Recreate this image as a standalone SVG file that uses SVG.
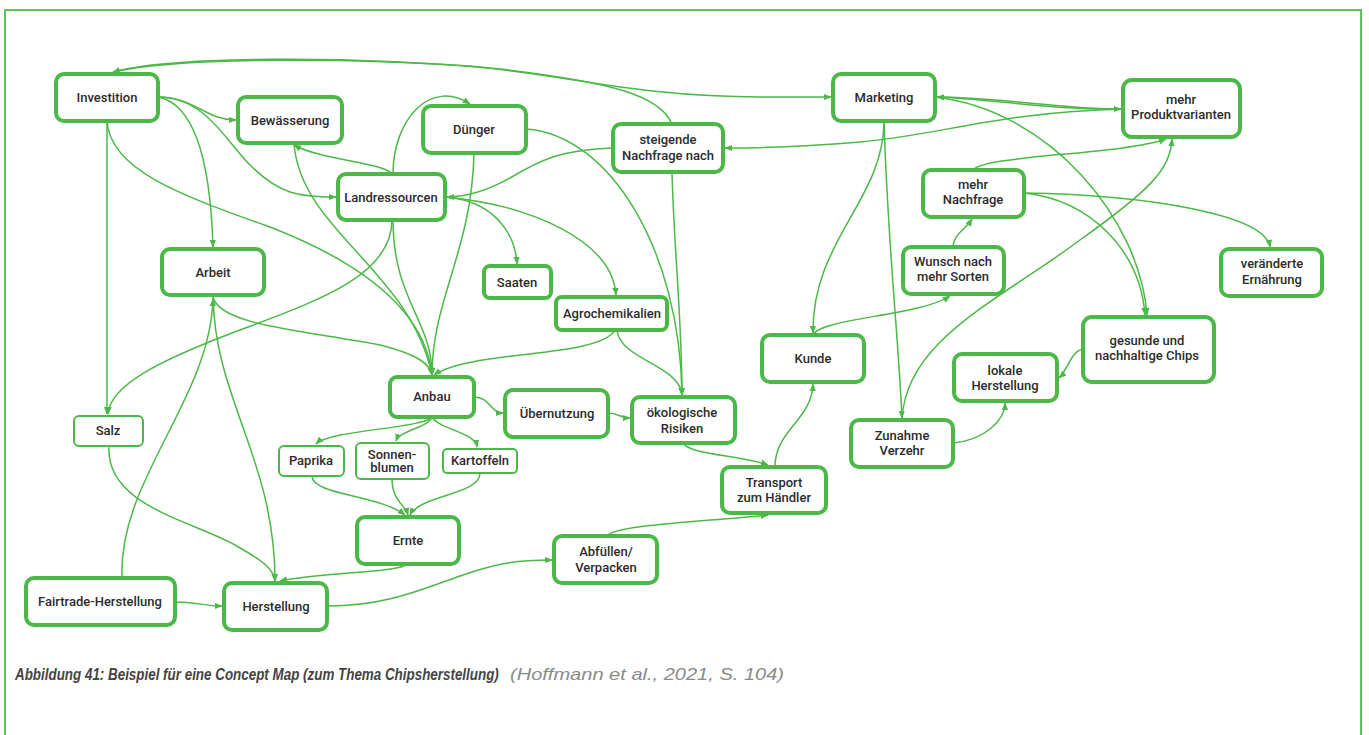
<svg xmlns="http://www.w3.org/2000/svg" width="1369" height="735" viewBox="0 0 1369 735">
<style>
.n rect{fill:#fff;stroke:#4cb848;stroke-width:4}
.s rect{fill:#fff;stroke:#4cb848;stroke-width:2}
.n text,.s text{font-family:Roboto,"Liberation Sans",sans-serif;font-weight:500;font-size:13px;fill:#2b2b2b;text-anchor:middle}
#edges path{fill:none;stroke:#4cb848;stroke-width:1.5;marker-end:url(#a)}
.cap{font-family:"Liberation Sans",Arial,sans-serif;font-style:italic;font-size:17px}
</style>
<defs>
<marker id="a" viewBox="0 0 10 10" refX="9" refY="5" markerWidth="8" markerHeight="8" markerUnits="userSpaceOnUse" orient="auto"><path d="M0,1 L10,5 L0,9 z" fill="#4cb848"/></marker>
</defs>
<rect width="1369" height="735" fill="#fff"/>
<path d="M5,735 L5,10 L1361,10 L1361,735" fill="none" stroke="#5cc45a" stroke-width="2"/>

<g id="edges">
<path d="M158,97 C195,97 205,120 236,120"/>
<path d="M158,97 C205,97 225,140 250,165 C280,195 300,197 336,197"/>
<path d="M158,97 C200,105 211,180 213,247"/>
<path d="M107,121 L107,414"/>
<path d="M107,121 C110,170 180,195 270,227 C360,262 425,310 432,375"/>
<path d="M672,124 C660,95 610,82 500,69 C350,55 170,56 113,72"/>
<path d="M113,72 C180,57 350,58 470,66 C580,77 640,97 760,97 L831,97"/>
<path d="M392,174 C386,163 320,160 294,145"/>
<path d="M393,174 C393,120 430,78 470,104"/>
<path d="M392,220 C392,275 320,300 240,330 C160,360 110,385 108,414"/>
<path d="M393,220 C393,300 432,320 432,375"/>
<path d="M445,197 C490,200 515,230 517,264"/>
<path d="M445,197 C530,205 612,240 616,295"/>
<path d="M613,148 C560,150 540,160 510,178 C480,195 460,197 447,197"/>
<path d="M294,143 C300,230 410,270 432,375"/>
<path d="M474,153 C472,250 432,300 432,375"/>
<path d="M526,129 C610,135 680,250 682,395"/>
<path d="M672,172 C674,250 682,320 682,395"/>
<path d="M617,330 C620,360 680,365 682,395"/>
<path d="M615,330 C600,358 470,350 434,375"/>
<path d="M213,297 C220,325 300,330 380,345 C420,355 430,365 432,375"/>
<path d="M122,578 C118,480 210,400 213,299"/>
<path d="M213,297 C215,400 275,460 275,581"/>
<path d="M109,446 C105,505 190,520 235,545 C265,562 274,570 275,581"/>
<path d="M407,564 C400,573 320,572 280,581"/>
<path d="M175,602 C195,602 205,606 222,606"/>
<path d="M327,606 C385,606 420,590 460,576 C500,562 520,560 552,560"/>
<path d="M607,536 C615,525 700,522 768,515"/>
<path d="M312,476 C312,495 380,495 405,515"/>
<path d="M392,479 C392,500 405,505 408,515"/>
<path d="M480,473 C480,495 420,495 410,515"/>
<path d="M432,417 C425,428 330,430 316,444"/>
<path d="M432,417 C428,428 400,430 396,441"/>
<path d="M432,417 C440,430 475,432 477,447"/>
<path d="M474,397 C490,397 490,413 503,413"/>
<path d="M608,413 C618,413 620,418 630,418"/>
<path d="M683,443 C690,455 740,455 768,465"/>
<path d="M775,467 C775,430 812,420 813,384"/>
<path d="M884,121 C884,200 812,240 813,333"/>
<path d="M884,121 C888,250 898,330 902,418"/>
<path d="M813,335 C820,318 920,316 950,296"/>
<path d="M953,247 C953,235 965,230 972,219"/>
<path d="M973,170 C985,155 1120,155 1166,139"/>
<path d="M902,420 C905,340 1000,300 1080,240 C1150,190 1170,170 1172,139"/>
<path d="M1024,193 C1150,195 1265,215 1270,247"/>
<path d="M1024,193 C1090,200 1140,250 1145,315"/>
<path d="M935,97 C1000,97 1060,109 1121,109"/>
<path d="M1123,109 C1050,110 990,99 937,97"/>
<path d="M935,97 C1050,110 1140,220 1147,315"/>
<path d="M1123,109 C1000,112 940,135 860,142 C800,147 760,148 725,148"/>
<path d="M1083,349 C1070,352 1068,370 1059,378"/>
<path d="M953,443 C985,440 1005,420 1005,403"/>
</g>

<g id="investition" class="n"><rect x="56" y="74" width="102" height="47" rx="8"/><text x="107" y="102">Investition</text></g>
<g id="bewaesserung" class="n"><rect x="238" y="97" width="104" height="46" rx="8"/><text x="290" y="125">Bewässerung</text></g>
<g id="landressourcen" class="n"><rect x="338" y="174" width="107" height="46" rx="8"/><text x="391" y="202">Landressourcen</text></g>
<g id="arbeit" class="n"><rect x="162" y="249" width="102" height="46" rx="8"/><text x="213" y="277">Arbeit</text></g>
<g id="duenger" class="n"><rect x="423" y="106" width="103" height="47" rx="8"/><text x="474" y="134">Dünger</text></g>
<g id="steigende" class="n"><rect x="613" y="124" width="110" height="48" rx="8"/><text x="668" y="144">steigende</text><text x="668" y="160">Nachfrage nach</text></g>
<g id="saaten" class="n"><rect x="484" y="266" width="67" height="32" rx="6"/><text x="517" y="287">Saaten</text></g>
<g id="agrochemikalien" class="n"><rect x="556" y="297" width="111" height="33" rx="6"/><text x="612" y="318">Agrochemikalien</text></g>
<g id="marketing" class="n"><rect x="833" y="74" width="102" height="47" rx="8"/><text x="884" y="102">Marketing</text></g>
<g id="produktvarianten" class="n"><rect x="1123" y="80" width="117" height="57" rx="9"/><text x="1181" y="104">mehr</text><text x="1181" y="119">Produktvarianten</text></g>
<g id="mehrnachfrage" class="n"><rect x="923" y="170" width="101" height="47" rx="8"/><text x="973" y="189">mehr</text><text x="973" y="204">Nachfrage</text></g>
<g id="wunsch" class="n"><rect x="903" y="247" width="101" height="47" rx="8"/><text x="953" y="266">Wunsch nach</text><text x="953" y="281">mehr Sorten</text></g>
<g id="ernaehrung" class="n"><rect x="1221" y="249" width="101" height="47" rx="8"/><text x="1272" y="268">veränderte</text><text x="1272" y="284">Ernährung</text></g>
<g id="gesunde" class="n"><rect x="1083" y="317" width="131" height="65" rx="9"/><text x="1147" y="345">gesunde und</text><text x="1147" y="360">nachhaltige Chips</text></g>
<g id="lokale" class="n"><rect x="954" y="354" width="103" height="47" rx="8"/><text x="1005" y="375">lokale</text><text x="1005" y="390">Herstellung</text></g>
<g id="kunde" class="n"><rect x="762" y="335" width="102" height="47" rx="8"/><text x="813" y="363">Kunde</text></g>
<g id="zunahme" class="n"><rect x="851" y="420" width="102" height="47" rx="8"/><text x="902" y="440">Zunahme</text><text x="902" y="455">Verzehr</text></g>
<g id="transport" class="n"><rect x="722" y="467" width="104" height="46" rx="8"/><text x="774" y="487">Transport</text><text x="774" y="502">zum Händler</text></g>
<g id="oekologisch" class="n"><rect x="632" y="397" width="103" height="46" rx="8"/><text x="682" y="417">ökologische</text><text x="682" y="433">Risiken</text></g>
<g id="uebernutzung" class="n"><rect x="505" y="390" width="103" height="47" rx="8"/><text x="557" y="418">Übernutzung</text></g>
<g id="anbau" class="n"><rect x="390" y="377" width="84" height="40" rx="7"/><text x="432" y="401">Anbau</text></g>
<g id="abfuellen" class="n"><rect x="554" y="536" width="103" height="47" rx="8"/><text x="606" y="556">Abfüllen/</text><text x="606" y="572">Verpacken</text></g>
<g id="ernte" class="n"><rect x="357" y="517" width="102" height="47" rx="8"/><text x="408" y="545">Ernte</text></g>
<g id="herstellung" class="n"><rect x="224" y="583" width="103" height="47" rx="8"/><text x="276" y="611">Herstellung</text></g>
<g id="fairtrade" class="n"><rect x="26" y="578" width="149" height="47" rx="8"/><text x="100" y="606">Fairtrade-Herstellung</text></g>
<g id="salz" class="s"><rect x="74" y="416" width="69" height="30" rx="5"/><text x="108" y="435">Salz</text></g>
<g id="paprika" class="s"><rect x="279" y="446" width="65" height="30" rx="5"/><text x="311" y="465">Paprika</text></g>
<g id="sonnenblumen" class="s"><rect x="356" y="443" width="73" height="36" rx="5"/><text x="392" y="459">Sonnen-</text><text x="392" y="472">blumen</text></g>
<g id="kartoffeln" class="s"><rect x="443" y="449" width="74" height="24" rx="4"/><text x="480" y="465">Kartoffeln</text></g>

<text class="cap" transform="translate(15,680) scale(0.82,1)" x="0" y="0" fill="#444" font-weight="bold" textLength="590" lengthAdjust="spacingAndGlyphs">Abbildung 41: Beispiel für eine Concept Map (zum Thema Chipsherstellung)</text>
<text class="cap" x="510" y="680" fill="#8a8a8a" textLength="274" lengthAdjust="spacingAndGlyphs">(Hoffmann et al., 2021, S. 104)</text>
</svg>
